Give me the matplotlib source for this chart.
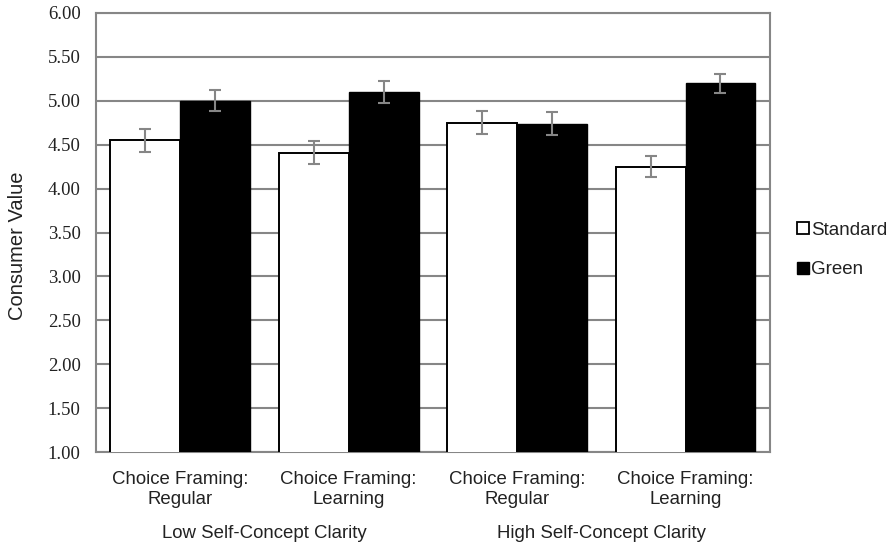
import matplotlib
matplotlib.use("Agg")
import matplotlib.pyplot as plt
from matplotlib.lines import Line2D
from matplotlib.transforms import blended_transform_factory
import numpy as np

framing = ["Choice Framing:\nRegular", "Choice Framing:\nLearning",
           "Choice Framing:\nRegular", "Choice Framing:\nLearning"]
clarity = ["Low Self-Concept Clarity", "High Self-Concept Clarity"]
standard = [4.55, 4.41, 4.75, 4.25]
green = [5.00, 5.10, 4.74, 5.20]
standard_err = [0.13, 0.13, 0.13, 0.12]
green_err = [0.12, 0.13, 0.13, 0.11]
yticks = [1.0, 1.5, 2.0, 2.5, 3.0, 3.5, 4.0, 4.5, 5.0, 5.5, 6.0]

SANS = "Liberation Sans"
SERIF = "Liberation Serif"
GRAY = "#868686"
TEXT = "#222222"

fig = plt.figure(figsize=(8.93, 5.53), dpi=100)
ax = fig.add_axes([0.1075, 0.1826, 0.7545, 0.7939])

x = np.arange(len(framing))
w = 0.415
ax.bar(x - w / 2, standard, w, color="white", edgecolor="black",
       linewidth=1.4, zorder=3)
ax.bar(x + w / 2, green, w, color="black", edgecolor="black",
       linewidth=1.0, zorder=3)
ekw = dict(fmt="none", ecolor=GRAY, elinewidth=1.5, capsize=4.3,
           capthick=1.5, zorder=4)
ax.errorbar(x - w / 2, standard, yerr=standard_err, **ekw)
ax.errorbar(x + w / 2, green, yerr=green_err, **ekw)

ax.set_xlim(-0.5, 3.5)
ax.set_ylim(1.0, 6.0)
ax.set_yticks(yticks)
ax.set_yticklabels([f"{v:.2f}" for v in yticks], family=SERIF, fontsize=13.5,
                   color=TEXT)
ax.yaxis.grid(True, color=GRAY, linewidth=1.5, zorder=0)
ax.set_axisbelow(True)
ax.tick_params(axis="y", length=0, pad=11)
ax.set_xticks(x)
ax.set_xticklabels(framing, family=SANS, fontsize=13.4, linespacing=1.2,
                   color=TEXT)
ax.tick_params(axis="x", length=0, pad=14)
for sp in ax.spines.values():
    sp.set_color(GRAY)
    sp.set_linewidth(1.5)

fig.text(18 / 893, 1 - 246 / 553, "Consumer Value", rotation=90, ha="center",
         va="center", family=SANS, fontsize=14.5, color=TEXT)

# group labels under each pair of framings
trans = blended_transform_factory(ax.transData, fig.transFigure)
for i, lab in enumerate(clarity):
    ax.text(2 * i + 0.5, 1 - 533 / 553, lab, transform=trans, ha="center",
            va="center", family=SANS, fontsize=13.4, color=TEXT)

handles = [
    Line2D([0], [0], marker="s", linestyle="None", markersize=8,
           markerfacecolor="white", markeredgecolor="black", markeredgewidth=1.3),
    Line2D([0], [0], marker="s", linestyle="None", markersize=8,
           markerfacecolor="black", markeredgecolor="black"),
]
leg = fig.legend(handles, ["Standard", "Green"], loc="center left",
                 bbox_to_anchor=(0.882, 1 - 250 / 553), frameon=False,
                 prop={"family": SANS, "size": 13.5}, handlelength=0.6,
                 handletextpad=0.15, labelspacing=1.2, borderpad=0)
for t in leg.get_texts():
    t.set_color(TEXT)

fig.savefig("out.png", dpi=100)
